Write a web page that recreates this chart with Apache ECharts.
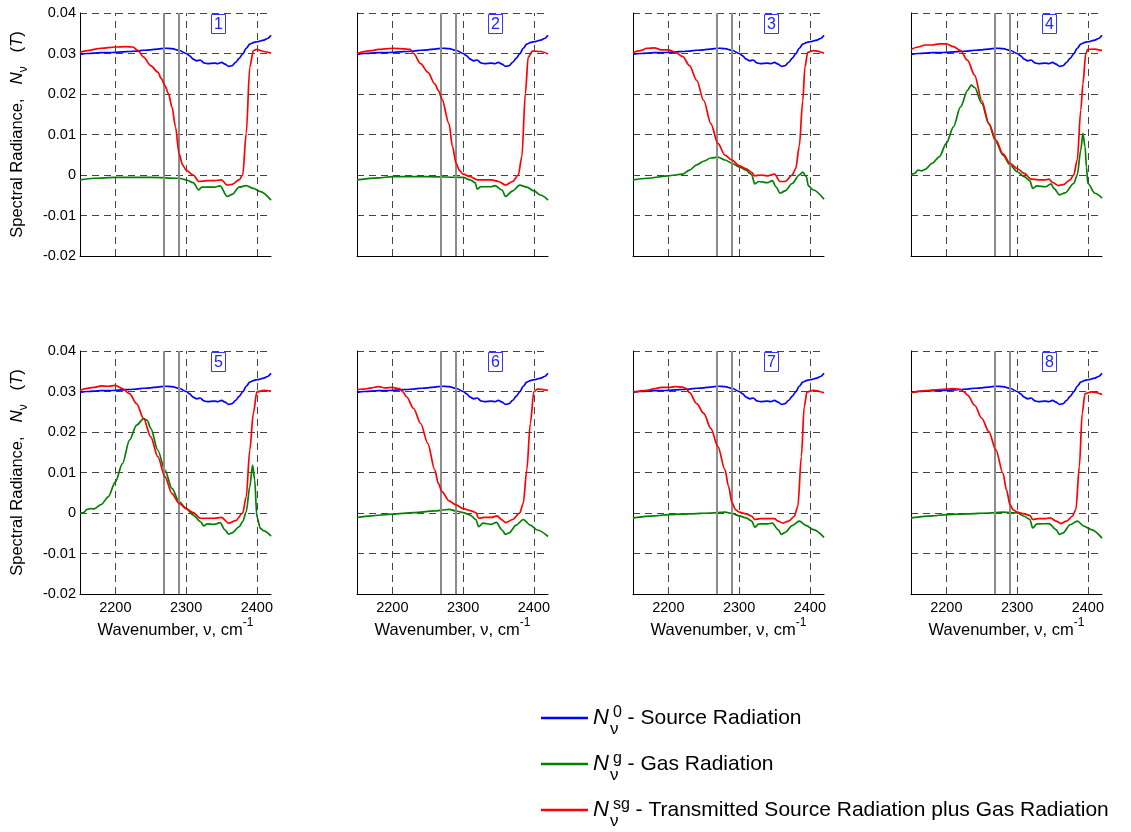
<!DOCTYPE html>
<html>
<head>
<meta charset="utf-8">
<script src="https://cdn.jsdelivr.net/npm/echarts@6/dist/echarts.min.js"></script>
<style>
  html, body { margin: 0; padding: 0; background: #fff; }
  #chart { width: 1131px; height: 832px; }
</style>
</head>
<body>
<div id="chart"></div>
<script>
  // axis settings
  const xMin = 2150, xMax = 2420;
  const yMin = -0.02, yMax = 0.04, yStep = 0.01;
  const xTicks = [2200, 2300, 2400];
  const cutLines = [2269, 2289];
  const panelLabels = ['1', '2', '3', '4', '5', '6', '7', '8'];

  // source radiation (same in every panel)
  const source = [[2150,0.0298],[2160,0.0300],[2170,0.0301],[2180,0.0302],[2190,0.0302],[2200,0.0303],[2210,0.0304],[2220,0.0305],[2230,0.0306],[2240,0.0308],[2250,0.0309],[2260,0.0311],[2270,0.0313],[2280,0.0312],[2290,0.0308],[2300,0.0300],[2305,0.0294],[2310,0.0286],[2315,0.0282],[2320,0.0284],[2325,0.0277],[2330,0.0275],[2340,0.0276],[2345,0.0275],[2350,0.0278],[2355,0.0274],[2360,0.0268],[2365,0.0270],[2370,0.0278],[2375,0.0288],[2380,0.0299],[2385,0.0313],[2390,0.0323],[2395,0.0327],[2400,0.0329],[2410,0.0333],[2415,0.0337],[2420,0.0345]];

  // transmitted source + gas radiation
  const mix1 = [[2150,0.0303],[2160,0.0307],[2180,0.0313],[2200,0.0316],[2215,0.0317],[2225,0.0316],[2232,0.0307],[2240,0.0291],[2250,0.0270],[2260,0.0254],[2265,0.0238],[2270,0.0221],[2275,0.0201],[2280,0.0168],[2285,0.0119],[2290,0.0053],[2295,0.0025],[2300,0.0012],[2310,0.0000],[2318,-0.0016],[2330,-0.0014],[2340,-0.0014],[2350,-0.0012],[2358,-0.0025],[2365,-0.0023],[2375,-0.0012],[2380,0.0000],[2385,0.0103],[2390,0.0266],[2395,0.0307],[2400,0.0310],[2410,0.0305],[2420,0.0301]];
  const mix2 = [[2150,0.0300],[2170,0.0307],[2180,0.0310],[2200,0.0313],[2220,0.0311],[2225,0.0310],[2230,0.0300],[2240,0.0275],[2250,0.0254],[2260,0.0225],[2265,0.0209],[2270,0.0188],[2280,0.0127],[2285,0.0070],[2290,0.0029],[2295,0.0011],[2300,0.0002],[2310,-0.0004],[2320,-0.0012],[2330,-0.0012],[2340,-0.0012],[2350,-0.0016],[2360,-0.0025],[2370,-0.0016],[2378,0.0000],[2383,0.0045],[2388,0.0201],[2392,0.0291],[2398,0.0306],[2410,0.0305],[2420,0.0299]];
  const mix3 = [[2150,0.0302],[2160,0.0307],[2170,0.0313],[2180,0.0314],[2190,0.0309],[2200,0.0309],[2210,0.0303],[2220,0.0293],[2230,0.0270],[2240,0.0234],[2250,0.0184],[2260,0.0127],[2270,0.0078],[2280,0.0049],[2290,0.0037],[2300,0.0023],[2310,0.0015],[2318,0.0006],[2322,-0.0002],[2330,0.0000],[2340,-0.0002],[2350,0.0002],[2358,-0.0016],[2365,-0.0016],[2375,0.0000],[2380,0.0016],[2385,0.0070],[2390,0.0184],[2393,0.0266],[2397,0.0303],[2405,0.0307],[2420,0.0301]];
  const mix4 = [[2150,0.0310],[2160,0.0316],[2170,0.0321],[2180,0.0321],[2190,0.0324],[2200,0.0324],[2210,0.0317],[2220,0.0307],[2230,0.0283],[2240,0.0246],[2250,0.0184],[2260,0.0127],[2270,0.0086],[2280,0.0052],[2290,0.0029],[2300,0.0016],[2310,0.0004],[2320,-0.0010],[2330,-0.0012],[2340,-0.0012],[2345,-0.0010],[2350,-0.0018],[2358,-0.0026],[2365,-0.0024],[2375,-0.0012],[2380,0.0000],[2385,0.0037],[2390,0.0160],[2393,0.0225],[2397,0.0299],[2400,0.0310],[2410,0.0311],[2420,0.0307]];
  const mix5 = [[2150,0.0303],[2170,0.0310],[2180,0.0314],[2190,0.0313],[2200,0.0315],[2210,0.0307],[2220,0.0295],[2230,0.0270],[2240,0.0233],[2250,0.0188],[2260,0.0139],[2270,0.0090],[2280,0.0048],[2290,0.0024],[2300,0.0011],[2310,0.0001],[2320,-0.0013],[2330,-0.0013],[2340,-0.0013],[2350,-0.0011],[2360,-0.0025],[2370,-0.0019],[2380,0.0000],[2385,0.0040],[2390,0.0155],[2395,0.0246],[2400,0.0299],[2410,0.0303],[2420,0.0301]];
  const mix6 = [[2150,0.0305],[2160,0.0306],[2170,0.0309],[2180,0.0312],[2190,0.0309],[2200,0.0310],[2210,0.0307],[2215,0.0299],[2220,0.0287],[2230,0.0258],[2240,0.0221],[2250,0.0172],[2260,0.0106],[2265,0.0073],[2270,0.0053],[2280,0.0030],[2290,0.0020],[2300,0.0011],[2310,0.0006],[2318,0.0001],[2322,-0.0013],[2330,-0.0011],[2340,-0.0011],[2348,-0.0007],[2355,-0.0017],[2360,-0.0024],[2370,-0.0016],[2380,0.0000],[2385,0.0024],[2390,0.0106],[2395,0.0221],[2400,0.0299],[2405,0.0306],[2420,0.0303]];
  const mix7 = [[2150,0.0299],[2170,0.0303],[2180,0.0307],[2190,0.0310],[2200,0.0310],[2210,0.0312],[2220,0.0311],[2225,0.0308],[2230,0.0297],[2240,0.0270],[2250,0.0246],[2260,0.0209],[2270,0.0164],[2280,0.0107],[2285,0.0066],[2290,0.0025],[2295,0.0008],[2300,0.0002],[2310,-0.0002],[2318,-0.0008],[2322,-0.0016],[2330,-0.0014],[2340,-0.0014],[2350,-0.0014],[2355,-0.0020],[2362,-0.0025],[2370,-0.0020],[2378,-0.0008],[2383,0.0016],[2388,0.0139],[2392,0.0262],[2396,0.0299],[2405,0.0303],[2420,0.0297]];
  const mix8 = [[2150,0.0297],[2170,0.0302],[2190,0.0305],[2200,0.0306],[2210,0.0307],[2220,0.0305],[2225,0.0299],[2230,0.0291],[2240,0.0266],[2250,0.0234],[2260,0.0201],[2270,0.0156],[2280,0.0098],[2285,0.0057],[2290,0.0020],[2295,0.0007],[2300,0.0002],[2310,-0.0002],[2318,-0.0006],[2322,-0.0016],[2330,-0.0014],[2340,-0.0014],[2347,-0.0012],[2355,-0.0020],[2362,-0.0026],[2370,-0.0020],[2378,-0.0008],[2383,0.0008],[2388,0.0115],[2392,0.0246],[2396,0.0295],[2405,0.0299],[2420,0.0293]];

  // gas radiation
  const gas1 = [[2150,-0.0012],[2170,-0.0008],[2200,-0.0006],[2250,-0.0006],[2290,-0.0008],[2300,-0.0012],[2310,-0.0019],[2318,-0.0037],[2322,-0.0030],[2340,-0.0030],[2348,-0.0027],[2358,-0.0053],[2365,-0.0048],[2375,-0.0030],[2385,-0.0026],[2395,-0.0033],[2405,-0.0041],[2420,-0.0062]];
  const gas2 = [[2150,-0.0012],[2180,-0.0007],[2200,-0.0004],[2250,-0.0004],[2300,-0.0006],[2310,-0.0012],[2317,-0.0019],[2320,-0.0035],[2325,-0.0029],[2340,-0.0029],[2345,-0.0026],[2355,-0.0037],[2360,-0.0053],[2370,-0.0039],[2380,-0.0025],[2390,-0.0030],[2400,-0.0039],[2410,-0.0050],[2420,-0.0062]];
  const gas3 = [[2150,-0.0012],[2170,-0.0008],[2200,-0.0002],[2220,0.0002],[2230,0.0012],[2240,0.0025],[2250,0.0034],[2260,0.0042],[2270,0.0044],[2280,0.0037],[2290,0.0029],[2300,0.0020],[2310,0.0012],[2315,0.0004],[2318,0.0000],[2322,-0.0022],[2328,-0.0016],[2340,-0.0019],[2347,-0.0014],[2352,-0.0029],[2358,-0.0045],[2365,-0.0039],[2375,-0.0021],[2385,0.0000],[2390,0.0007],[2395,-0.0004],[2398,-0.0027],[2405,-0.0037],[2420,-0.0060]];
  const gas4 = [[2150,0.0000],[2155,0.0004],[2160,0.0012],[2165,0.0010],[2170,0.0014],[2180,0.0029],[2190,0.0045],[2200,0.0078],[2210,0.0119],[2220,0.0168],[2230,0.0209],[2235,0.0222],[2240,0.0216],[2250,0.0177],[2260,0.0127],[2270,0.0082],[2280,0.0049],[2290,0.0025],[2300,0.0008],[2310,-0.0004],[2318,-0.0014],[2322,-0.0033],[2328,-0.0027],[2340,-0.0029],[2348,-0.0022],[2352,-0.0033],[2360,-0.0049],[2368,-0.0044],[2380,-0.0021],[2385,0.0000],[2390,0.0062],[2393,0.0103],[2396,0.0070],[2398,0.0020],[2400,-0.0021],[2410,-0.0045],[2420,-0.0057]];
  const gas5 = [[2150,0.0000],[2155,0.0001],[2160,0.0009],[2165,0.0011],[2170,0.0010],[2180,0.0021],[2190,0.0040],[2200,0.0077],[2210,0.0122],[2220,0.0180],[2230,0.0217],[2240,0.0233],[2245,0.0229],[2250,0.0209],[2260,0.0155],[2270,0.0106],[2280,0.0061],[2290,0.0028],[2300,0.0011],[2310,-0.0005],[2320,-0.0021],[2325,-0.0032],[2330,-0.0027],[2340,-0.0028],[2348,-0.0024],[2355,-0.0042],[2360,-0.0052],[2365,-0.0049],[2375,-0.0034],[2380,-0.0021],[2385,0.0003],[2390,0.0065],[2394,0.0118],[2397,0.0081],[2400,-0.0009],[2405,-0.0038],[2410,-0.0044],[2420,-0.0057]];
  const gas6 = [[2150,-0.0011],[2170,-0.0007],[2200,-0.0003],[2230,0.0001],[2260,0.0005],[2270,0.0007],[2280,0.0009],[2290,0.0005],[2300,0.0001],[2310,-0.0005],[2318,-0.0016],[2322,-0.0034],[2328,-0.0025],[2340,-0.0028],[2347,-0.0023],[2355,-0.0042],[2360,-0.0053],[2365,-0.0049],[2375,-0.0030],[2385,-0.0016],[2395,-0.0030],[2405,-0.0042],[2420,-0.0058]];
  const gas7 = [[2150,-0.0012],[2180,-0.0007],[2200,-0.0004],[2230,-0.0002],[2260,0.0000],[2280,0.0002],[2290,-0.0001],[2300,-0.0007],[2310,-0.0012],[2318,-0.0020],[2322,-0.0035],[2328,-0.0027],[2340,-0.0027],[2347,-0.0025],[2355,-0.0041],[2360,-0.0053],[2365,-0.0048],[2375,-0.0031],[2385,-0.0020],[2395,-0.0031],[2405,-0.0041],[2420,-0.0060]];
  const gas8 = [[2150,-0.0012],[2180,-0.0007],[2200,-0.0004],[2230,-0.0002],[2260,0.0000],[2280,0.0002],[2300,0.0000],[2310,-0.0008],[2318,-0.0016],[2322,-0.0037],[2328,-0.0027],[2345,-0.0026],[2355,-0.0041],[2360,-0.0053],[2365,-0.0049],[2375,-0.0029],[2385,-0.0020],[2395,-0.0033],[2405,-0.0041],[2420,-0.0062]];

  const mixData = [mix1, mix2, mix3, mix4, mix5, mix6, mix7, mix8];
  const gasData = [gas1, gas2, gas3, gas4, gas5, gas6, gas7, gas8];

  const colLefts = [80, 357, 633, 911];
  const rowTops = [13, 351];
  const panelW = 191, panelH = 243;
  const font = 'Liberation Sans, Arial, sans-serif';
  const gridLine = { color: '#444', width: 1, type: [7, 5] };

  const chart = echarts.init(document.getElementById('chart'));

  const grids = [], xAxes = [], yAxes = [], titles = [], series = [];

  for (let i = 0; i < 8; i++) {
    const row = Math.floor(i / 4), col = i % 4;
    const left = colLefts[col], top = rowTops[row];
    grids.push({ left: left, top: top, width: panelW, height: panelH });

    xAxes.push({
      gridIndex: i,
      type: 'value',
      min: xMin,
      max: xMax,
      axisLine: { onZero: false, lineStyle: { color: '#000', width: 1 } },
      axisTick: { show: false },
      splitLine: { show: false },
      axisLabel: {
        show: row === 1,
        customValues: xTicks,
        color: '#000',
        fontFamily: font,
        fontSize: 14.5,
        margin: 6,
        formatter: (v) => String(v),
      },
      name: row === 1 ? '{t|Wavenumber, ν, cm}{p|-1}' : '',
      nameLocation: 'middle',
      nameGap: 23,
      nameTextStyle: {
        rich: {
          t: { fontFamily: font, fontSize: 16.5, color: '#000', verticalAlign: 'bottom', lineHeight: 22 },
          p: { fontFamily: font, fontSize: 12, color: '#000', verticalAlign: 'top', lineHeight: 22 },
        },
      },
    });

    yAxes.push({
      gridIndex: i,
      type: 'value',
      min: yMin,
      max: yMax,
      interval: yStep,
      axisLine: { show: true, onZero: false, lineStyle: { color: '#000', width: 1 } },
      axisTick: { show: false },
      splitLine: { show: true, lineStyle: gridLine },
      axisLabel: {
        show: col === 0,
        color: '#000',
        fontFamily: font,
        fontSize: 14.5,
        margin: 4,
        formatter: (v) => (Math.abs(v) < 1e-9 ? '0' : v.toFixed(2)),
      },
      name: col === 0 ? '{t|Spectral Radiance,   }{n|N}{s|ν}{t|   (}{n|T}{t|)}' : '',
      nameLocation: 'middle',
      nameGap: 50,
      nameTextStyle: {
        rich: {
          t: { fontFamily: font, fontSize: 16.5, color: '#000', lineHeight: 26 },
          n: { fontFamily: font, fontSize: 17, fontStyle: 'italic', color: '#000', lineHeight: 26 },
          s: { fontFamily: font, fontSize: 12, color: '#000', verticalAlign: 'bottom', lineHeight: 26 },
        },
      },
    });

    titles.push({
      text: panelLabels[i],
      left: left + 131,
      top: top + 1,
      padding: [2, 3, 1, 3],
      borderColor: '#3535ff',
      borderWidth: 1,
      backgroundColor: '#fff',
      textStyle: { color: '#2323ff', fontSize: 16, fontWeight: 'normal', fontFamily: font, lineHeight: 17 },
    });

    const lineBase = {
      type: 'line',
      xAxisIndex: i,
      yAxisIndex: i,
      showSymbol: false,
      smooth: 0.3,
      smoothMonotone: 'x',
      silent: true,
      animation: false,
    };

    series.push({
      ...lineBase,
      name: 'source',
      data: source,
      lineStyle: { color: '#0000ff', width: 1.7 },
      itemStyle: { color: '#0000ff' },
      z: 3,
      markLine: {
        silent: true,
        symbol: 'none',
        label: { show: false },
        animation: false,
        data: [
          ...xTicks.map((v) => ({ xAxis: v, lineStyle: gridLine })),
          ...cutLines.map((v) => ({ xAxis: v, lineStyle: { color: '#8c8c8c', width: 2, type: 'solid' } })),
        ],
      },
    });
    series.push({
      ...lineBase,
      name: 'gas',
      data: gasData[i],
      lineStyle: { color: '#008000', width: 1.7 },
      itemStyle: { color: '#008000' },
      z: 4,
    });
    series.push({
      ...lineBase,
      name: 'mix',
      data: mixData[i],
      lineStyle: { color: '#ff0000', width: 1.7 },
      itemStyle: { color: '#ff0000' },
      z: 5,
    });
  }

  const legendText = {
    source: '{n|N}{s|ν}{p|0}{t| - Source Radiation}',
    gas: '{n|N}{s|ν}{p|g}{t| - Gas Radiation}',
    mix: '{n|N}{s|ν}{p|sg}{t| - Transmitted Source Radiation plus Gas Radiation}',
  };

  const option = {
    animation: false,
    backgroundColor: '#fff',
    title: titles,
    grid: grids,
    xAxis: xAxes,
    yAxis: yAxes,
    legend: {
      data: ['source', 'gas', 'mix'],
      orient: 'vertical',
      left: 541,
      top: 698,
      padding: 0,
      itemGap: 6,
      itemWidth: 47,
      itemHeight: 2.5,
      itemTextGap: 5,
      icon: 'rect',
      selectedMode: false,
      formatter: (name) => legendText[name],
      textStyle: {
        rich: {
          n: { fontFamily: font, fontSize: 22, fontStyle: 'italic', color: '#000', lineHeight: 40 },
          s: { fontFamily: font, fontSize: 17, color: '#000', width: 0, padding: [0, 0, 0, 1], verticalAlign: 'bottom', lineHeight: 17 },
          p: { fontFamily: font, fontSize: 16, color: '#000', padding: [7, 0, 0, 3], verticalAlign: 'top', lineHeight: 18 },
          t: { fontFamily: font, fontSize: 21, color: '#000', lineHeight: 40 },
        },
      },
    },
    series: series,
  };

  chart.setOption(option);
</script>
</body>
</html>
